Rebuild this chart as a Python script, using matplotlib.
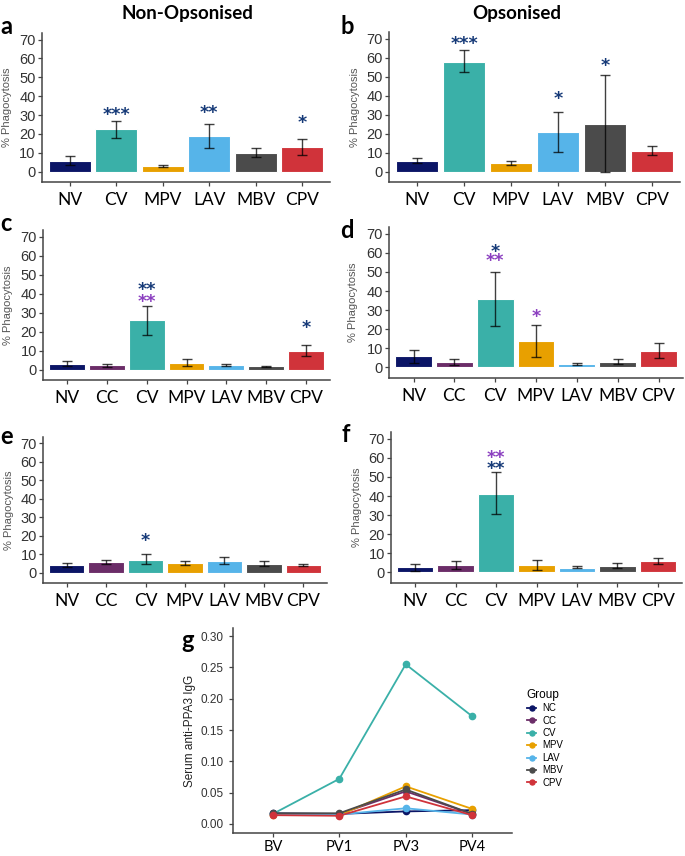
import matplotlib.pyplot as plt
import numpy as np

W, H = 685, 856

# colours per group
col = {'NV': '#0B1566', 'NC': '#0B1566', 'CC': '#6B2D68', 'CV': '#3AB0A8',
       'MPV': '#E8A000', 'LAV': '#56B4E9', 'MBV': '#4B4B4B', 'CPV': '#D0333A'}
navy_star = '#163A78'
purple_star = '#8B3FC0'

# ---- panel data: labels, bar means, error low / high ----
grp6 = ['NV', 'CV', 'MPV', 'LAV', 'MBV', 'CPV']
grp7 = ['NV', 'CC', 'CV', 'MPV', 'LAV', 'MBV', 'CPV']

a_mean = [5.5, 22.4, 2.9, 18.9, 9.8, 12.9]
a_lo = [3.5, 17.9, 2.5, 12.6, 7.5, 8.8]
a_hi = [8.1, 26.7, 3.3, 25.3, 12.3, 17.2]
a_stars = [('CV', '***', 33.0, navy_star), ('LAV', '**', 33.7, navy_star), ('CPV', '*', 28.4, navy_star)]

b_mean = [5.8, 57.8, 4.4, 20.8, 25.2, 10.7]
b_lo = [4.4, 52.5, 3.5, 10.5, -0.3, 8.6]
b_hi = [7.0, 63.9, 5.3, 31.2, 51.0, 13.5]
b_stars = [('CV', '***', 70.0, navy_star), ('LAV', '*', 41.0, navy_star), ('MBV', '*', 58.3, navy_star)]

c_mean = [3.0, 2.3, 25.9, 3.5, 2.3, 1.8, 9.7]
c_lo = [1.8, 1.2, 18.3, 1.9, 1.8, 1.5, 7.0]
c_hi = [4.4, 3.0, 33.7, 5.5, 2.8, 2.1, 12.7]
c_stars = [('CV', '**', 45.0, navy_star), ('CV', '**', 38.3, purple_star), ('CPV', '*', 24.5, navy_star)]

d_mean = [6.2, 2.8, 35.9, 13.6, 1.7, 2.9, 8.8]
d_lo = [2.6, 1.4, 21.6, 5.3, 1.2, 1.6, 5.0]
d_hi = [9.1, 4.3, 50.2, 22.0, 2.4, 4.5, 12.6]
d_stars = [('CV', '*', 63.0, navy_star), ('CV', '**', 58.3, purple_star), ('MPV', '*', 29.3, purple_star)]

e_mean = [4.3, 5.7, 7.2, 5.2, 6.3, 4.8, 4.3]
e_lo = [3.4, 4.7, 4.8, 4.1, 4.7, 3.6, 3.8]
e_hi = [5.2, 7.0, 10.2, 6.5, 8.6, 6.3, 4.8]
e_stars = [('CV', '*', 20.0, navy_star)]

f_mean = [2.8, 3.7, 41.1, 3.9, 2.5, 3.3, 5.8]
f_lo = [0.9, 1.8, 30.6, 1.2, 2.1, 2.1, 4.4]
f_hi = [4.7, 5.8, 52.5, 6.5, 3.2, 4.9, 7.6]
f_stars = [('CV', '**', 62.7, purple_star), ('CV', '**', 57.1, navy_star)]

# ---- panel g: serum IgG over time ----
timepoints = ['BV', 'PV1', 'PV3', 'PV4']
g_groups = ['NC', 'CC', 'CV', 'MPV', 'LAV', 'MBV', 'CPV']
g_NC = [0.017, 0.016, 0.020, 0.022]
g_CC = [0.016, 0.016, 0.052, 0.016]
g_CV = [0.016, 0.072, 0.255, 0.172]
g_MPV = [0.015, 0.014, 0.060, 0.024]
g_LAV = [0.016, 0.015, 0.025, 0.015]
g_MBV = [0.017, 0.017, 0.055, 0.016]
g_CPV = [0.014, 0.013, 0.044, 0.014]
g_vals = [g_NC, g_CC, g_CV, g_MPV, g_LAV, g_MBV, g_CPV]

fig = plt.figure(figsize=(W / 100, H / 100), dpi=100)


def add_ax(left, top, right, bottom):
    return fig.add_axes([left / W, 1 - bottom / H, (right - left) / W, (bottom - top) / H])


def style(ax):
    for s in ['top', 'right']:
        ax.spines[s].set_visible(False)
    for s in ['left', 'bottom']:
        ax.spines[s].set_color('#444444')
        ax.spines[s].set_linewidth(1.1)
    ax.tick_params(axis='both', length=3, width=0.9, color='#444444')


def bar_panel(box, labels, mean, lo, hi, stars, ylab_x):
    ax = add_ax(*box)
    style(ax)
    x = np.arange(len(labels))
    mean = np.array(mean)
    ax.bar(x, mean, width=0.9, color=[col[g] for g in labels], edgecolor='white', linewidth=0.8)
    ax.errorbar(x, mean, yerr=[mean - np.array(lo), np.array(hi) - mean], fmt='none',
                ecolor='black', elinewidth=1.0, capsize=3.5, capthick=1.0, alpha=0.75)
    for g, s, y, c in stars:
        ax.annotate(s, (labels.index(g), y), xytext=(0, -7.5), textcoords='offset points',
                    ha='center', va='baseline', fontsize=12.5, fontweight='bold', color=c,
                    family='DejaVu Sans')
    ax.set_xlim(-0.6, len(labels) - 0.4)
    ax.set_ylim(-5.5, 73.5)
    ax.set_yticks(range(0, 71, 10))
    ax.set_xticks(x)
    ax.set_xticklabels(labels, fontsize=12.5, family='Lato', color='black')
    ax.tick_params(axis='x', pad=4)
    ax.tick_params(axis='y', pad=1.5)
    for t in ax.get_yticklabels():
        t.set_fontsize(10.5)
        t.set_family('Liberation Sans')
        t.set_color('#333333')
    ax.set_ylabel('% Phagocytosis', fontsize=8, family='Liberation Sans', color='#555555')
    l, t_, r, b = box
    ax.yaxis.set_label_coords((ylab_x - l) / (r - l), 0.5)
    return ax


bar_panel((42, 33, 330, 182), grp6, a_mean, a_lo, a_hi, a_stars, 12.5)
bar_panel((389, 32, 680, 182), grp6, b_mean, b_lo, b_hi, b_stars, 360.5)
bar_panel((43, 230, 330, 380), grp7, c_mean, c_lo, c_hi, c_stars, 13)
bar_panel((389, 227, 683, 378), grp7, d_mean, d_lo, d_hi, d_stars, 358.5)
bar_panel((43, 437, 327, 583), grp7, e_mean, e_lo, e_hi, e_stars, 14)
bar_panel((391, 432, 682, 583), grp7, f_mean, f_lo, f_hi, f_stars, 361.5)

# panel g
ax = add_ax(233, 628, 512, 833)
style(ax)
xt = np.arange(len(timepoints))
for g, v in zip(g_groups, g_vals):
    ax.plot(xt, v, color=col[g], lw=1.3, marker='o', markersize=4.5, label=g)
ax.set_xlim(-0.6, 3.6)
ax.set_ylim(-0.0145, 0.313)
ax.set_yticks([0, 0.05, 0.10, 0.15, 0.20, 0.25, 0.30])
ax.set_yticklabels(['0.00', '0.05', '0.10', '0.15', '0.20', '0.25', '0.30'],
                   fontsize=8.5, family='Liberation Sans', color='#333333')
ax.set_xticks(xt)
ax.set_xticklabels(timepoints, fontsize=10.5, family='Lato', color='black')
ax.tick_params(axis='x', pad=2)
ax.set_ylabel('Serum anti-PPA3 IgG', fontsize=8.5, family='Liberation Sans', color='#222222')
ax.yaxis.set_label_coords((196.5 - 233) / (512 - 233), 0.5)
leg = ax.legend(title='Group', loc='upper left', bbox_to_anchor=(518 / W, 1 - 680 / H),
                bbox_transform=fig.transFigure, frameon=False, fontsize=7,
                title_fontsize=8.5, handlelength=1.0, labelspacing=0.25, markerscale=0.8,
                handletextpad=0.6, alignment='left',
                prop={'family': 'Liberation Sans', 'size': 7})
leg.get_title().set_family('Liberation Sans')

# headers and panel letters
fig.text(187 / W, 1 - 14 / H, 'Non-Opsonised', ha='center', va='center', fontsize=13.5,
         fontweight='bold', family='Lato')
fig.text(517 / W, 1 - 14 / H, 'Opsonised', ha='center', va='center', fontsize=13.5,
         fontweight='bold', family='Lato')
letters = [('a', 0, 27), ('b', 340, 27), ('c', 0, 223), ('d', 340, 230),
           ('e', 0, 436), ('f', 341, 434), ('g', 181, 640)]
for s, x, y in letters:
    fig.text(x / W, 1 - y / H, s, ha='left', va='center', fontsize=17,
             fontweight='bold', family='Lato')

fig.savefig('out.png', dpi=100)
